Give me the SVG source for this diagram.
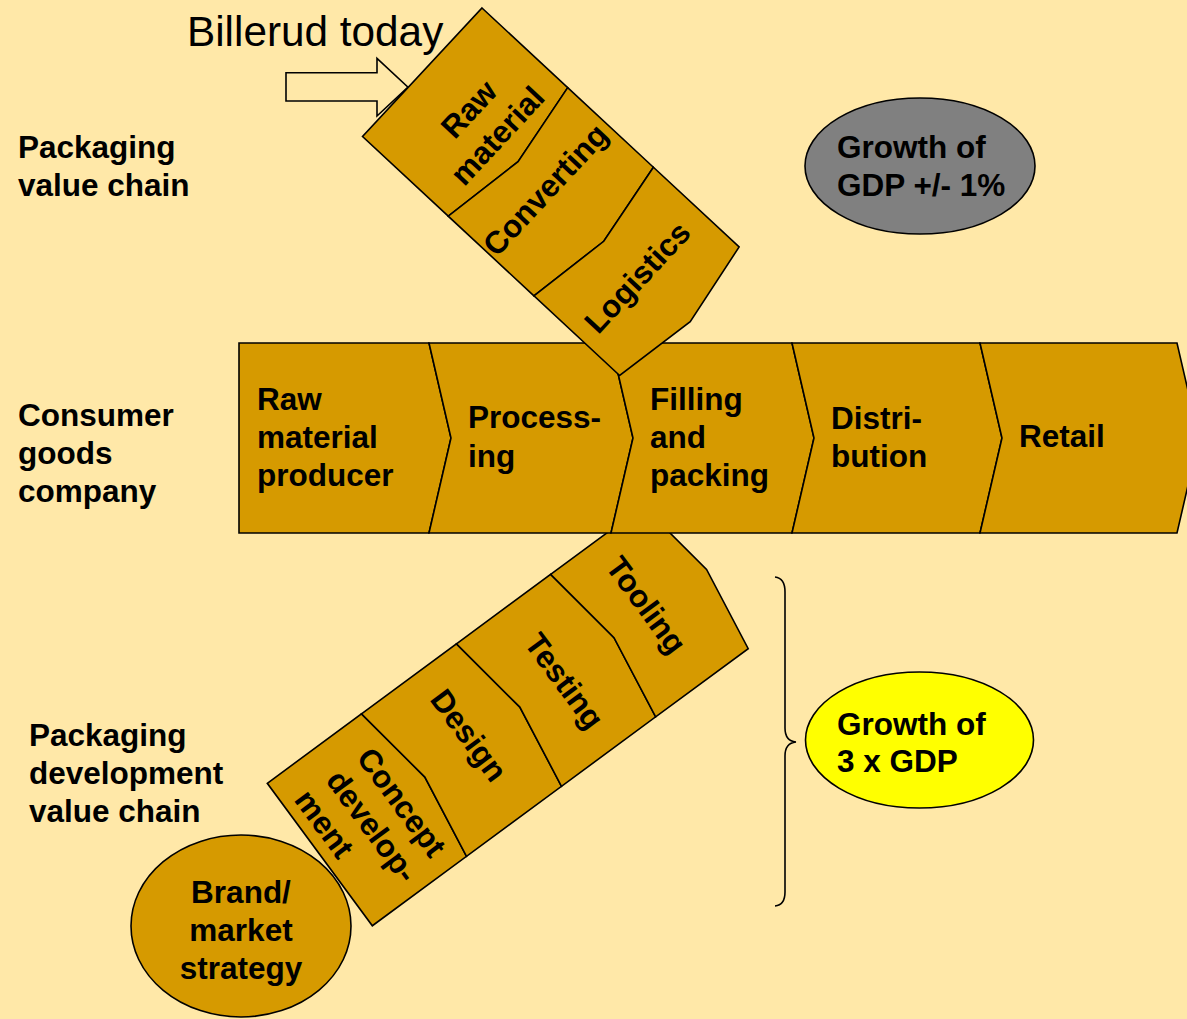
<svg xmlns="http://www.w3.org/2000/svg" width="1187" height="1019" viewBox="0 0 1187 1019">
  <style>
    .bg { fill: #FFE8A8; }
    .step { fill: #D69A00; stroke: #000; stroke-width: 1.6; stroke-linejoin: miter; }
    .lbl { font-family: "Liberation Sans", Arial, sans-serif; font-weight: bold; font-size: 31.5px; fill: #000; }
    .mid { text-anchor: middle; }
    .plain { font-family: "Liberation Sans", Arial, sans-serif; font-size: 42.3px; fill: #000; }
    .line { fill: none; stroke: #000; stroke-width: 1.6; }
  </style>

  <rect class="bg" x="0" y="0" width="1187" height="1019"/>

  <!-- Row captions -->
  <g id="caption-packaging">
    <text class="lbl" x="18" y="158">Packaging</text>
    <text class="lbl" x="18" y="196">value chain</text>
  </g>
  <g id="caption-consumer">
    <text class="lbl" x="18" y="426">Consumer</text>
    <text class="lbl" x="18" y="464">goods</text>
    <text class="lbl" x="18" y="502">company</text>
  </g>
  <g id="caption-development">
    <text class="lbl" x="29" y="746">Packaging</text>
    <text class="lbl" x="29" y="784">development</text>
    <text class="lbl" x="29" y="822">value chain</text>
  </g>

  <!-- Pointer and brace -->
  <g id="connectors">
    <polygon class="bg" stroke="#000" stroke-width="1.6" points="286,72.7 377,72.7 377,58.3 408,87.2 377,116 377,101 286,101"/>
    <path class="line" d="M775,577 Q785,578 785,592 L785,728 Q785,741 796,742 Q785,743 785,756 L785,892 Q785,905 775,906"/>
  </g>

  <g id="billerud-today">
    <text class="plain" x="187" y="46">Billerud today</text>
  </g>

  <!-- Packaging development value chain (tilted strip) -->
  <g id="development-chain" transform="translate(267.3,783.3) rotate(-36.4)">
    <g id="concept-development">
      <path class="step" d="M0,0 L117,0 L130.5,88.5 L117,177 L0,177 Z"/>
      <text class="lbl" transform="rotate(90)" x="32" y="-86">Concept</text>
      <text class="lbl" transform="rotate(90)" x="32" y="-48">develop-</text>
      <text class="lbl" transform="rotate(90)" x="29" y="-11">ment</text>
    </g>
    <g id="design">
      <path class="step" d="M117,0 L235,0 L248.5,88.5 L235,177 L117,177 L130.5,88.5 Z"/>
      <text class="lbl mid" transform="rotate(90)" x="81" y="-180">Design</text>
    </g>
    <g id="testing">
      <path class="step" d="M235,0 L352,0 L365.5,88.5 L352,177 L235,177 L248.5,88.5 Z"/>
      <text class="lbl mid" transform="rotate(90)" x="94" y="-289">Testing</text>
    </g>
    <g id="tooling">
      <path class="step" d="M352,0 L467,0 L480.5,88.5 L467,177 L352,177 L365.5,88.5 Z"/>
      <text class="lbl mid" transform="rotate(90)" x="81.5" y="-400">Tooling</text>
    </g>
  </g>

  <!-- Consumer goods company chain -->
  <g id="consumer-chain">
    <g id="raw-material-producer">
      <path class="step" d="M239,343 L429,343 L451,438 L429,533 L239,533 Z"/>
      <text class="lbl" x="257" y="410">Raw</text>
      <text class="lbl" x="257" y="448">material</text>
      <text class="lbl" x="257" y="486">producer</text>
    </g>
    <g id="processing">
      <path class="step" d="M429,343 L611,343 L633,438 L611,533 L429,533 L451,438 Z"/>
      <text class="lbl" x="468" y="428">Process-</text>
      <text class="lbl" x="468" y="467">ing</text>
    </g>
    <g id="filling-packing">
      <path class="step" d="M611,343 L792,343 L814,438 L792,533 L611,533 L633,438 Z"/>
      <text class="lbl" x="650" y="410">Filling</text>
      <text class="lbl" x="650" y="448">and</text>
      <text class="lbl" x="650" y="486">packing</text>
    </g>
    <g id="distribution">
      <path class="step" d="M792,343 L980,343 L1002,438 L980,533 L792,533 L814,438 Z"/>
      <text class="lbl" x="831" y="429">Distri-</text>
      <text class="lbl" x="831" y="467">bution</text>
    </g>
    <g id="retail">
      <path class="step" d="M980,343 L1177,343 L1199,438 L1177,533 L980,533 L1002,438 Z"/>
      <text class="lbl" x="1019" y="447">Retail</text>
    </g>
  </g>

  <!-- Packaging value chain (tilted strip) -->
  <g id="packaging-chain" transform="translate(482,8) rotate(42.9)">
    <g id="raw-material">
      <path class="step" d="M0,0 L117,0 L131,88 L117,175.5 L0,175.5 Z"/>
      <text class="lbl mid" transform="rotate(-90)" x="-83" y="70">Raw</text>
      <text class="lbl mid" transform="rotate(-90)" x="-83" y="109">material</text>
    </g>
    <g id="converting">
      <path class="step" d="M117,0 L234,0 L248,88 L234,175.5 L117,175.5 L131,88 Z"/>
      <text class="lbl mid" transform="rotate(-90)" x="-90" y="181">Converting</text>
    </g>
    <g id="logistics">
      <path class="step" d="M234,0 L351,0 L366,88 L351,175.5 L234,175.5 L248,88 Z"/>
      <text class="lbl mid" transform="rotate(-90)" x="-91.5" y="308">Logistics</text>
    </g>
  </g>

  <!-- Growth bubbles -->
  <g id="growth-gdp">
    <ellipse cx="920" cy="166" rx="115" ry="68" fill="#808080" stroke="#000" stroke-width="1.6"/>
    <text class="lbl" x="837" y="158">Growth of</text>
    <text class="lbl" x="837" y="196">GDP +/- 1%</text>
  </g>
  <g id="growth-3x">
    <ellipse cx="919.5" cy="740" rx="114" ry="68" fill="#FFFF00" stroke="#000" stroke-width="1.6"/>
    <text class="lbl" x="837" y="735">Growth of</text>
    <text class="lbl" x="837" y="772">3 x GDP</text>
  </g>

  <g id="brand-strategy">
    <ellipse cx="241" cy="926" rx="110" ry="91" fill="#D69A00" stroke="#000" stroke-width="1.6"/>
    <text class="lbl mid" x="241" y="903">Brand/</text>
    <text class="lbl mid" x="241" y="941">market</text>
    <text class="lbl mid" x="241" y="979">strategy</text>
  </g>
</svg>
